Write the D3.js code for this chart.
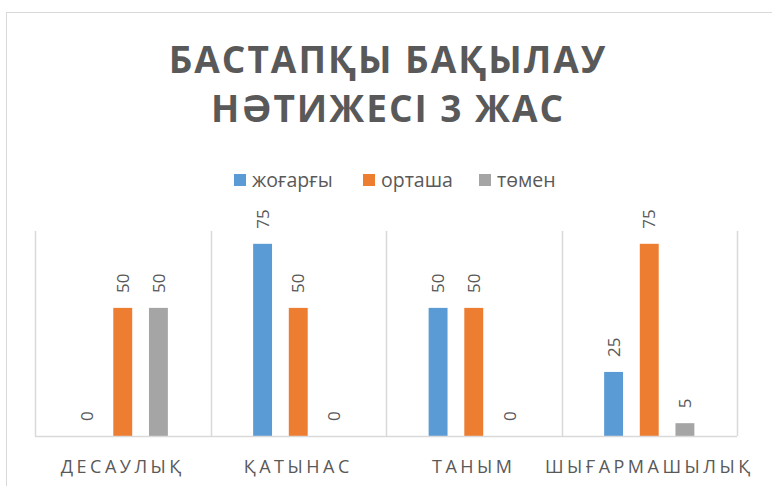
<!doctype html>
<html>
<head>
<meta charset="utf-8">
<title>Бастапқы бақылау</title>
<style>
body { margin: 0; background: #fff; }
text { font-family: "Open Sans", sans-serif; fill: #595959; }
</style>
<script src="https://cdn.jsdelivr.net/npm/d3@7"></script>
</head>
<body>
<script>
var categories = ["ДЕСАУЛЫҚ", "ҚАТЫНАС", "ТАНЫМ", "ШЫҒАРМАШЫЛЫҚ"];
var seriesNames = ["жоғарғы", "орташа", "төмен"];
var high = [0, 75, 50, 25];
var mid = [50, 50, 50, 75];
var low = [50, 0, 0, 5];
var titleLines = ["БАСТАПҚЫ БАҚЫЛАУ", "НӘТИЖЕСІ 3 ЖАС"];
var colors = ["#5b9bd5", "#ed7d31", "#a5a5a5"];

var w = 772, h = 486;
var seriesValues = [high, mid, low];

var svg = d3.select("body").append("svg")
    .attr("width", w)
    .attr("height", h);

// chart frame
svg.append("rect")
    .attr("x", 6.5).attr("y", 12.5)
    .attr("width", 800).attr("height", 500)
    .attr("fill", "#fff")
    .attr("stroke", "#d9d9d9");

// title
svg.selectAll(".title")
    .data(titleLines)
    .enter().append("text")
    .attr("class", "title")
    .attr("x", 388)
    .attr("y", function(d, i) { return 73 + i * 48.5; })
    .attr("text-anchor", "middle")
    .style("font-size", "37px")
    .style("font-weight", "bold")
    .style("letter-spacing", "2px")
    .text(function(d) { return d; });

var x0 = d3.scaleBand()
    .domain(categories)
    .range([35, 737]);

var half = 53.5;
var x1 = d3.scaleBand()
    .domain(seriesNames)
    .range([x0.bandwidth() / 2 - half, x0.bandwidth() / 2 + half])
    .paddingInner(0.47)
    .paddingOuter(0.235);

var y = d3.scaleLinear()
    .domain([0, 80])
    .range([436, 231]);

// vertical gridlines between categories
var bounds = categories.map(function(c) { return x0(c); }).concat([x0.range()[1]]);
svg.selectAll(".vgrid")
    .data(bounds)
    .enter().append("line")
    .attr("x1", function(d) { return Math.round(d) + 0.5; })
    .attr("x2", function(d) { return Math.round(d) + 0.5; })
    .attr("y1", y(80))
    .attr("y2", y(0))
    .attr("stroke", "#d9d9d9")
    .attr("stroke-width", 1.5);

var rows = [];
categories.forEach(function(c, ci) {
    seriesNames.forEach(function(s, si) {
        rows.push({ cat: c, series: s, si: si, value: seriesValues[si][ci] });
    });
});

var g = svg.append("g");

g.selectAll("rect.bar")
    .data(rows)
    .enter().append("rect")
    .attr("class", "bar")
    .attr("x", function(d) { return x0(d.cat) + x1(d.series); })
    .attr("width", x1.bandwidth())
    .attr("y", function(d) { return y(d.value); })
    .attr("height", function(d) { return y(0) - y(d.value); })
    .attr("fill", function(d) { return colors[d.si]; });

// baseline
svg.append("line")
    .attr("x1", x0.range()[0]).attr("x2", x0.range()[1])
    .attr("y1", y(0) + 0.5).attr("y2", y(0) + 0.5)
    .attr("stroke", "#d9d9d9")
    .attr("stroke-width", 1.5);

// value labels, rotated
g.selectAll("text.val")
    .data(rows)
    .enter().append("text")
    .attr("class", "val")
    .attr("transform", function(d) {
        var cx = x0(d.cat) + x1(d.series) + x1.bandwidth() / 2;
        return "translate(" + cx + "," + (y(d.value) - 15) + ")rotate(-90)";
    })
    .attr("dy", "0.36em")
    .style("font-size", "17px")
    .text(function(d) { return d.value; });

// category labels
svg.selectAll("text.cat")
    .data(categories)
    .enter().append("text")
    .attr("class", "cat")
    .attr("x", function(d) { return x0(d) + x0.bandwidth() / 2; })
    .attr("y", 473)
    .attr("text-anchor", "middle")
    .style("font-size", "18px")
    .style("letter-spacing", "3.5px")
    .text(function(d) { return d; });

// legend
var legendX = [234, 363, 479];
var lg = svg.selectAll("g.legend")
    .data(seriesNames)
    .enter().append("g")
    .attr("class", "legend")
    .attr("transform", function(d, i) { return "translate(" + legendX[i] + ",174)"; });

lg.append("rect")
    .attr("width", 12).attr("height", 12)
    .attr("fill", function(d, i) { return colors[i]; });

lg.append("text")
    .attr("x", 18)
    .attr("y", 13)
    .style("font-size", "19.5px")
    .text(function(d) { return d; });
</script>
</body>
</html>
